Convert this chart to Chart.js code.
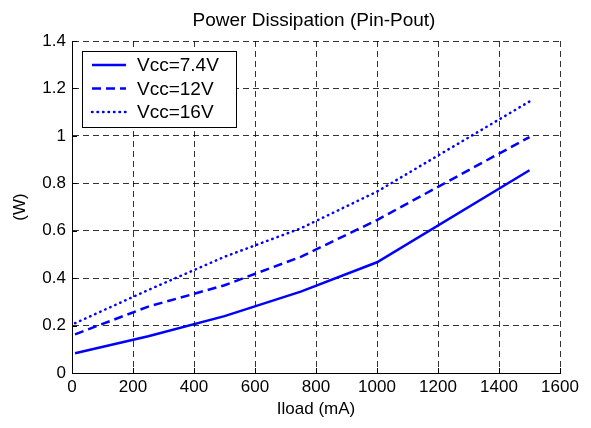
<!DOCTYPE html>
<html>
<head>
<meta charset="utf-8">
<script src="https://cdn.jsdelivr.net/npm/chart.js@4.4.0/dist/chart.umd.min.js"></script>
<style>
  html, body { margin: 0; padding: 0; background: #fff; }
  #wrap { width: 591px; height: 428px; }
</style>
</head>
<body>
<div id="wrap"><canvas id="c" width="591" height="428"></canvas></div>
<script>
// load current in mA
var iload = [10, 250, 500, 750, 1000, 1500];
// dissipated power in W
var p74 = [0.083, 0.155, 0.24, 0.343, 0.467, 0.855];
var p12 = [0.163, 0.28, 0.37, 0.49, 0.645, 0.995];
var p16 = [0.21, 0.35, 0.49, 0.61, 0.765, 1.145];
var seriesLabels = ["Vcc=7.4V", "Vcc=12V", "Vcc=16V"];
var chartTitle = "Power Dissipation (Pin-Pout)";
var xTitle = "Iload (mA)";
var yTitle = "(W)";

var FONT = "Arial, 'Liberation Sans', sans-serif";

function pts(ys) {
  return ys.map(function (y, i) { return { x: iload[i], y: y }; });
}

// title centred over the plot area
var titlePlugin = {
  id: "plotTitle",
  afterDraw: function (chart) {
    var ctx = chart.ctx, a = chart.chartArea;
    ctx.save();
    ctx.fillStyle = "#000";
    ctx.font = "19px " + FONT;
    ctx.textAlign = "center";
    ctx.textBaseline = "alphabetic";
    ctx.fillText(chartTitle, (a.left + a.right) / 2 - 2, 25.5);
    ctx.restore();
  }
};

// small inward ticks on the left and bottom axes
var innerTicks = {
  id: "innerTicks",
  beforeDatasetsDraw: function (chart) {
    var ctx = chart.ctx, a = chart.chartArea;
    var xs = chart.scales.x, ys = chart.scales.y;
    ctx.save();
    ctx.strokeStyle = "#000";
    ctx.lineWidth = 1;
    ctx.setLineDash([]);
    ctx.beginPath();
    xs.ticks.forEach(function (t) {
      var px = Math.round(xs.getPixelForValue(t.value)) + 0.5;
      ctx.moveTo(px, a.bottom);
      ctx.lineTo(px, a.bottom - 5);
    });
    ys.ticks.forEach(function (t) {
      var py = Math.round(ys.getPixelForValue(t.value)) + 0.5;
      ctx.moveTo(a.left, py);
      ctx.lineTo(a.left + 5, py);
    });
    ctx.stroke();
    ctx.restore();
  }
};

// boxed legend in the upper left corner
var boxLegend = {
  id: "boxLegend",
  afterDraw: function (chart) {
    var ctx = chart.ctx;
    var bx = 82.5, by = 51.5, bw = 154, bh = 76;
    ctx.save();
    ctx.fillStyle = "#fff";
    ctx.fillRect(bx, by, bw, bh);
    ctx.strokeStyle = "#000";
    ctx.lineWidth = 1;
    ctx.setLineDash([]);
    ctx.strokeRect(bx, by, bw, bh);
    ctx.font = "19px " + FONT;
    ctx.textBaseline = "middle";
    ctx.textAlign = "left";
    chart.data.datasets.forEach(function (ds, i) {
      var y = 65 + i * 23.5;
      ctx.save();
      ctx.strokeStyle = ds.borderColor;
      ctx.lineWidth = ds.borderWidth;
      ctx.lineCap = ds.borderCapStyle || "butt";
      ctx.setLineDash(ds.borderDash || []);
      ctx.beginPath();
      ctx.moveTo(92, y);
      ctx.lineTo(126, y);
      ctx.stroke();
      ctx.restore();
      ctx.fillStyle = "#000";
      ctx.fillText(ds.label, 137, y + 1);
    });
    ctx.restore();
  }
};

new Chart(document.getElementById("c").getContext("2d"), {
  type: "line",
  data: {
    datasets: [
      {
        label: seriesLabels[0],
        data: pts(p74),
        borderColor: "#0000ff",
        borderWidth: 2.5,
        pointRadius: 0,
        tension: 0
      },
      {
        label: seriesLabels[1],
        data: pts(p12),
        borderColor: "#0000ff",
        borderWidth: 2.5,
        borderDash: [9, 5],
        pointRadius: 0,
        tension: 0
      },
      {
        label: seriesLabels[2],
        data: pts(p16),
        borderColor: "#0000ff",
        borderWidth: 2.5,
        borderDash: [0.5, 5],
        borderCapStyle: "round",
        pointRadius: 0,
        tension: 0
      }
    ]
  },
  options: {
    responsive: false,
    animation: false,
    layout: { padding: { left: 0, right: 31, top: 41, bottom: 0 } },
    plugins: {
      legend: { display: false },
      title: { display: false },
      tooltip: { enabled: false }
    },
    scales: {
      x: {
        type: "linear",
        min: 0,
        max: 1600,
        ticks: {
          stepSize: 200,
          color: "#000",
          font: { family: FONT, size: 17 },
          padding: 4,
          maxRotation: 0,
          callback: function (v) { return String(v); }
        },
        grid: { color: "rgba(0,0,0,0.8)", lineWidth: 1, drawTicks: false },
        border: { display: true, color: "#000", width: 1, dash: [6, 4] },
        title: {
          display: true,
          text: xTitle,
          color: "#000",
          font: { family: FONT, size: 17 },
          padding: { top: 0, bottom: 8 }
        },
        afterFit: function (s) { s.height = 55; }
      },
      y: {
        min: 0,
        max: 1.4,
        ticks: {
          stepSize: 0.2,
          color: "#000",
          font: { family: FONT, size: 17 },
          padding: 6,
          callback: function (v) { return String(Math.round(v * 10) / 10); }
        },
        grid: { color: "rgba(0,0,0,0.8)", lineWidth: 1, drawTicks: false },
        border: { display: true, color: "#000", width: 1, dash: [6, 4] },
        title: {
          display: true,
          text: yTitle,
          color: "#000",
          font: { family: FONT, size: 17 },
          padding: { top: 10, bottom: 0 }
        },
        afterFit: function (s) { s.width = 72; }
      }
    }
  },
  plugins: [innerTicks, titlePlugin, boxLegend]
});
</script>
</body>
</html>
